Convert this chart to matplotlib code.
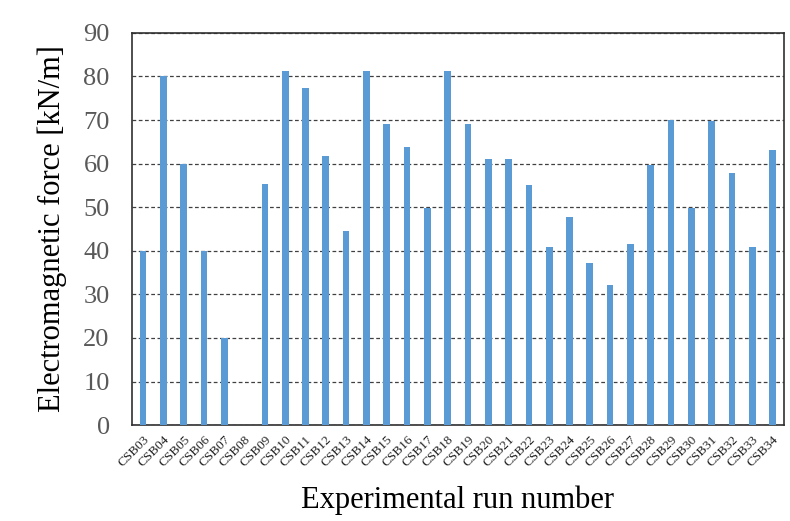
import numpy as np
import matplotlib.pyplot as plt

plt.rcParams['font.family'] = ['Liberation Serif', 'DejaVu Serif']

runs = ["CSB03", "CSB04", "CSB05", "CSB06", "CSB07", "CSB08", "CSB09", "CSB10",
        "CSB11", "CSB12", "CSB13", "CSB14", "CSB15", "CSB16", "CSB17", "CSB18",
        "CSB19", "CSB20", "CSB21", "CSB22", "CSB23", "CSB24", "CSB25", "CSB26",
        "CSB27", "CSB28", "CSB29", "CSB30", "CSB31", "CSB32", "CSB33", "CSB34"]
force = [40, 80, 60, 40, 20, 0, 55.3, 81.3,
         77.3, 61.8, 44.5, 81.3, 69.1, 63.8, 49.8, 81.3,
         69.1, 61.1, 61.1, 55.2, 40.8, 47.8, 37.2, 32.2,
         41.5, 59.6, 70.0, 49.8, 69.8, 57.9, 40.8, 63.1]

fig = plt.figure(figsize=(7.9, 5.21), dpi=100)
ax = fig.add_axes([0.167, 0.184, 0.825, 0.753])

x = np.arange(len(runs))
ax.bar(x, force, width=0.33, color='#5B9BD5', zorder=3)

ax.set_xlim(-0.55, len(runs) - 0.45)
ax.set_ylim(0, 90)
ax.set_yticks(np.arange(0, 91, 10))
ax.yaxis.grid(True, linestyle=(0, (3, 2)), color='#404040', linewidth=0.9, zorder=0)

ax.set_xticks(x)
ax.set_xticklabels(runs, rotation=45, ha='right', va='top', rotation_mode='anchor',
                   fontsize=9.5, color='#202020')
ax.tick_params(axis='x', length=0, pad=6)
ax.tick_params(axis='y', length=0, labelsize=19, labelcolor='#595959', pad=16)

for s in ax.spines.values():
    s.set_color('#303030')
    s.set_linewidth(1.2)

ax.set_ylabel("Electromagnetic force [kN/m]", fontsize=22, labelpad=12)
ax.set_xlabel("Experimental run number", fontsize=22, labelpad=12)

fig.savefig("out.png", dpi=100)
